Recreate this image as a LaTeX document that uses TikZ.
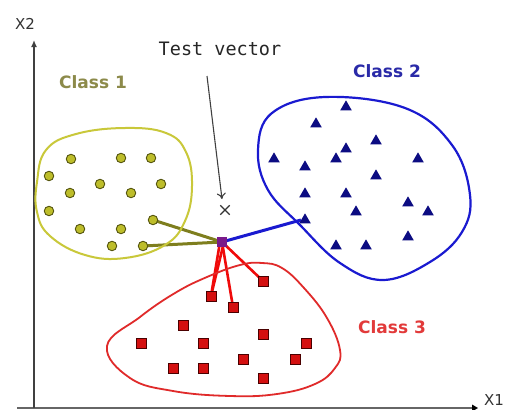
\documentclass[tikz,border=0pt]{standalone}
\usepackage{fontspec}
\setmainfont{DejaVu Sans}
\newfontfamily\monof{DejaVu Sans Mono}
\usetikzlibrary{shapes.geometric,shapes.misc,arrows.meta,backgrounds}
\definecolor{cOneLine}{HTML}{C9C83A}
\definecolor{cOneLabel}{HTML}{8C8A4A}
\definecolor{cOneFill}{HTML}{BDBD2A}
\definecolor{cOneDark}{HTML}{55550F}
\definecolor{cOneConn}{HTML}{7E7E1E}
\definecolor{cTwoLine}{HTML}{1A1AD0}
\definecolor{cTwoTri}{HTML}{0C0C82}
\definecolor{cTwoLabel}{HTML}{2A2AA8}
\definecolor{cThrLine}{HTML}{E02A2A}
\definecolor{cThrFill}{HTML}{D41010}
\definecolor{cThrDark}{HTML}{4A0000}
\definecolor{cThrLabel}{HTML}{E23A3A}
\definecolor{cThrConn}{HTML}{F00A0A}
\definecolor{cPurple}{HTML}{7A1A8A}
\begin{document}
\begin{tikzpicture}[x=1pt,y=-1pt,
  dotn/.style={circle,fill=cOneFill,draw=cOneDark,line width=0.9pt,minimum size=9.5pt,inner sep=0pt},
  trin/.style={isosceles triangle,isosceles triangle apex angle=60,shape border rotate=90,fill=cTwoTri,minimum height=10pt,minimum width=11pt,inner sep=0pt},
  sqn/.style={rectangle,fill=cThrFill,draw=cThrDark,line width=0.8pt,minimum size=10pt,inner sep=0pt},
  lab/.style={font=\bfseries\fontsize{17}{20}\selectfont,inner sep=0pt},
  axlab/.style={font=\fontsize{15}{18}\selectfont,text=black!80,inner sep=0pt}]
\useasboundingbox (0,0) rectangle (507,410);
\begin{scope}[on background layer]
\fill[white] (0,0) rectangle (507,410);
\end{scope}

% axes
\coordinate (yb) at (34,408);
\coordinate (yt) at (34,40);
\coordinate (xl) at (17,408);
\coordinate (xr) at (473,408);
\draw[black!60,line width=1.8pt] (xl) -- (xr);
\draw[black!75,line width=1.8pt,-{Latex[length=7pt,width=6pt]}] (yb) -- (yt);
\fill[black] (xr) ++(-1,-3.5) -- ++(6,3.5) -- ++(-6,3.5) -- cycle;
\node[axlab] (X2) at (25,24) {X2};
\node[axlab] (X1) at (494,400) {X1};

% labels
\node[lab,text=cOneLabel] (L1) at (93,82) {Class 1};
\node[lab,text=cTwoLabel] (L2) at (387,71) {Class 2};
\node[lab,text=cThrLabel] (L3) at (392,327) {Class 3};
\node[inner sep=0pt,font=\monof\fontsize{18.5}{20}\selectfont,text=black!85] (tv) at (220,49) {Test vector};

% blobs
\draw[cOneLine,line width=2pt] plot[smooth cycle,tension=0.7] coordinates
 {(37,182) (46,150) (76,134) (125,128) (166,133) (186,152) (192,186) (185,221) (165,245) (125,258) (85,255) (50,236) (37,212)};
\draw[cTwoLine,line width=2.2pt] plot[smooth cycle,tension=0.65] coordinates
 {(258,150) (272,113) (325,97) (405,108) (452,145) (470,195) (462,232) (430,262) (383,280) (340,263) (300,225) (268,190)};
\draw[cThrLine,line width=1.8pt] plot[smooth cycle,tension=0.7] coordinates
 {(107,346) (140,317) (175,293) (207,277) (240,265) (262,263) (282,268) (304,288) (327,318) (340,350) (335,368) (315,384) (277,394) (230,396) (173,391) (130,378)};

% class 1 dots
\node[dotn] (c1) at (71,159) {};
\node[dotn] (c2) at (121,158) {};
\node[dotn] (c3) at (151,158) {};
\node[dotn] (c4) at (49,176) {};
\node[dotn] (c5) at (100,184) {};
\node[dotn] (c6) at (161,184) {};
\node[dotn] (c7) at (70,193) {};
\node[dotn] (c8) at (131,193) {};
\node[dotn] (c9) at (49,211) {};
\node[dotn] (c10) at (153,220) {};
\node[dotn] (c11) at (80,229) {};
\node[dotn] (c12) at (121,229) {};
\node[dotn] (c13) at (112,246) {};
\node[dotn] (c14) at (143,246) {};

% class 2 triangles
\node[trin] (t1) at (346,107) {};
\node[trin] (t2) at (316,124) {};
\node[trin] (t3) at (376,141) {};
\node[trin] (t4) at (346,149) {};
\node[trin] (t5) at (274,159) {};
\node[trin] (t6) at (336,159) {};
\node[trin] (t7) at (418,159) {};
\node[trin] (t8) at (305,167) {};
\node[trin] (t9) at (376,176) {};
\node[trin] (t10) at (305,194) {};
\node[trin] (t11) at (346,194) {};
\node[trin] (t12) at (408,203) {};
\node[trin] (t13) at (356,212) {};
\node[trin] (t14) at (428,212) {};
\node[trin] (t15) at (305,220) {};
\node[trin] (t16) at (336,246) {};
\node[trin] (t17) at (366,246) {};
\node[trin] (t18) at (408,237) {};

% class 3 squares
\node[sqn] (s1) at (263,281) {};
\node[sqn] (s2) at (211,296) {};
\node[sqn] (s3) at (233,307) {};
\node[sqn] (s4) at (183,325) {};
\node[sqn] (s5) at (263,334) {};
\node[sqn] (s6) at (141,343) {};
\node[sqn] (s7) at (203,343) {};
\node[sqn] (s8) at (306,343) {};
\node[sqn] (s9) at (243,359) {};
\node[sqn] (s10) at (295,359) {};
\node[sqn] (s11) at (173,368) {};
\node[sqn] (s12) at (203,368) {};
\node[sqn] (s13) at (263,378) {};

% test point
\node[rectangle,fill=cPurple,minimum size=10pt,inner sep=0pt] (p) at (222,242) {};
\node[cross out,draw=black!80,line width=1.4pt,minimum size=8pt,inner sep=0pt] (xm) at (225,210) {};

% connectors
\begin{scope}[on background layer]
\draw[cOneConn,line width=3pt] (p.center) -- (c10.center);
\draw[cOneConn,line width=3pt] (p.center) -- (c14.center);
\draw[cTwoLine,line width=3pt] (p.center) -- (t15.west);
\draw[cThrConn,line width=2.6pt] ([xshift=-2pt]p.center) -- (s2.center);
\draw[cThrConn,line width=2.6pt] ([xshift=2pt]p.center) -- (s2.center);
\draw[cThrConn,line width=2.6pt] (p.center) -- (s3.center);
\draw[cThrConn,line width=2.6pt] (p.center) -- (s1.center);
\end{scope}

% test vector arrow
\coordinate (a1) at (207,76);
\coordinate (a2) at (222,199);
\draw[black!75,line width=1.1pt,-{To[length=6pt,width=9pt]}] (a1) -- (a2);
\end{tikzpicture}
\end{document}
